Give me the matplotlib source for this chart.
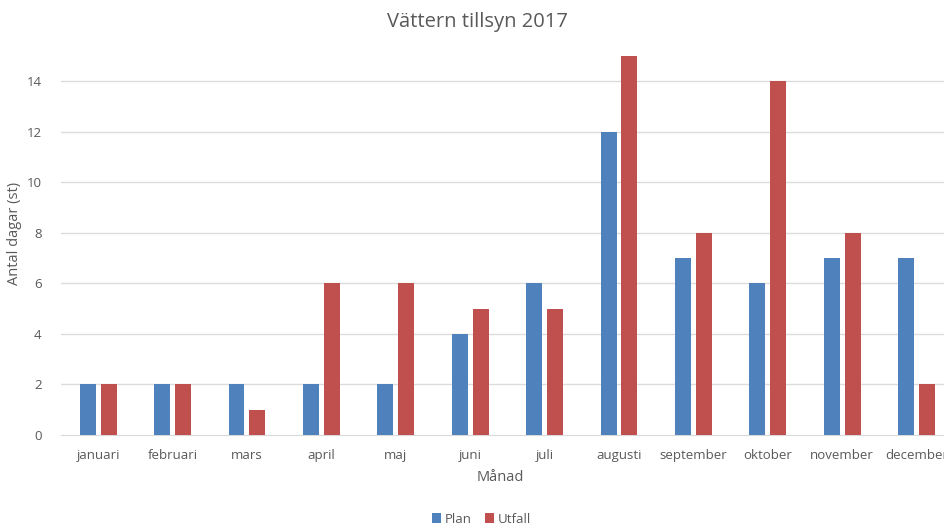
import matplotlib.pyplot as plt
import numpy as np

# data
manader = ["januari", "februari", "mars", "april", "maj", "juni", "juli",
           "augusti", "september", "oktober", "november", "december"]
plan = [2, 2, 2, 2, 2, 4, 6, 12, 7, 6, 7, 7]
utfall = [2, 2, 1, 6, 6, 5, 5, 15, 8, 14, 8, 2]

plt.rcParams['font.family'] = ['Open Sans', 'DejaVu Sans']
grey = "#595959"

fig = plt.figure(figsize=(9.44, 5.27), dpi=100)
ax = fig.add_axes([0.0646, 0.1746, 0.9458, 0.7666])

x = np.arange(len(manader))
w = 0.215
ax.bar(x - 0.141, plan, w, color="#4F81BD", label="Plan", zorder=3)
ax.bar(x + 0.141, utfall, w, color="#C0504D", label="Utfall", zorder=3)

ax.set_xlim(-0.5, len(manader) - 0.5)
ax.set_ylim(0, 16)
ax.set_yticks(range(0, 15, 2))
ax.set_xticks(x)
ax.set_xticklabels(manader)
ax.tick_params(length=0, colors=grey, labelsize=9.5)
ax.tick_params(axis="y", pad=14)
ax.tick_params(axis="x", pad=10)

for yv in range(2, 15, 2):
    ax.axhline(yv, color="#DCDCDC", lw=1, zorder=1)
for s in ["top", "right", "left"]:
    ax.spines[s].set_visible(False)
ax.spines["bottom"].set_color("#D9D9D9")

ax.set_ylabel("Antal dagar (st)", color=grey, fontsize=10.5, labelpad=3)
fig.text(0.53, 0.093, "Månad", color=grey, fontsize=10.5, ha="center", va="center")
fig.text(0.506, 0.958, "Vättern tillsyn 2017", color=grey, fontsize=14.5, ha="center", va="center")

fig.legend(loc="center", bbox_to_anchor=(0.51, 0.015), ncol=2, frameon=False,
           fontsize=9.5, labelcolor=grey, handlelength=0.7, handleheight=0.7,
           handletextpad=0.3, columnspacing=1.0)

plt.savefig("out.png", dpi=100)
